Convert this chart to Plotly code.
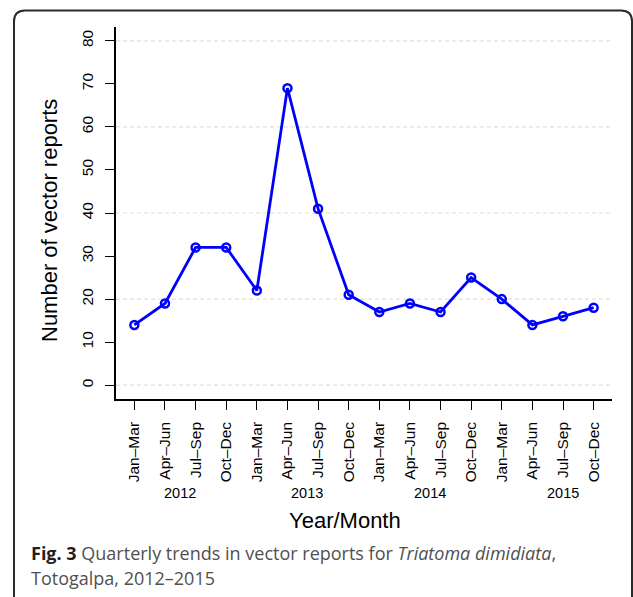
import plotly.graph_objects as go

# Quarterly vector reports, Totogalpa 2012-2015
quarters = ["Jan–Mar", "Apr–Jun", "Jul–Sep", "Oct–Dec"] * 4
reports = [14, 19, 32, 32, 22, 69, 41, 21, 17, 19, 17, 25, 20, 14, 16, 18]
years = ["2012", "2013", "2014", "2015"]
year_pos = [2.5, 6.65, 10.65, 15.0]
grid_vals = [0, 20, 40, 60, 80]
y_ticks = [0, 10, 20, 30, 40, 50, 60, 70, 80]

x_idx = list(range(1, len(reports) + 1))

W, H = 633, 597
L, R, T, B = 116, 21, 27, 198
PW, PH = W - L - R, H - T - B


def px(x):
    return (x - L) / PW


def py(y):
    return (H - B - y) / PH


fig = go.Figure()
fig.add_trace(go.Scatter(
    x=x_idx, y=reports, mode="lines+markers",
    line=dict(color="#0000FF", width=2.8),
    marker=dict(symbol="circle-open", size=8, color="#0000FF",
                line=dict(color="#0000FF", width=2.5)),
    cliponaxis=False, hoverinfo="skip",
))

tick_font = dict(family="Liberation Sans, Arial, sans-serif", size=15.5, color="#000000")
year_font = dict(family="Liberation Sans, Arial, sans-serif", size=14.5, color="#000000")

fig.update_layout(
    width=W, height=H,
    margin=dict(l=L, r=R, t=T, b=B, pad=0),
    paper_bgcolor="white", plot_bgcolor="white",
    showlegend=False,
    xaxis=dict(
        range=[0.4, 16.6], tickmode="array", tickvals=x_idx, ticktext=quarters,
        tickangle=-90, ticks="outside", ticklen=9, tickwidth=1, tickcolor="#000",
        showline=True, linecolor="#000", linewidth=1.5, showgrid=False,
        zeroline=False, tickfont=tick_font, ticklabelstandoff=6,
    ),
    yaxis=dict(
        range=[-3.2, 83.2], tickmode="array", tickvals=y_ticks,
        tickangle=-90, ticks="outside", ticklen=9, tickwidth=1, tickcolor="#000",
        showline=True, linecolor="#000", linewidth=1.5, showgrid=False,
        zeroline=False, tickfont=tick_font, ticklabelstandoff=6,
    ),
)

# dashed horizontal guides
for g in grid_vals:
    fig.add_shape(type="line", xref="paper", yref="y", x0=0, x1=1, y0=g, y1=g,
                  line=dict(color="#E6E0D0", width=1.2, dash="4px,3px"), layer="below")

# year labels under the quarter ticks
for yr, xp in zip(years, year_pos):
    fig.add_annotation(x=xp, y=py(493), xref="x", yref="paper", text=yr,
                       showarrow=False, xanchor="center", yanchor="middle",
                       font=year_font)

title_font = dict(family="Liberation Sans, Arial, sans-serif", size=22, color="#000000")
fig.add_annotation(x=px(345), y=py(520), xref="paper", yref="paper", text="Year/Month",
                   showarrow=False, xanchor="center", yanchor="middle", font=title_font)
fig.add_annotation(x=px(49), y=py(221), xref="paper", yref="paper",
                   text="Number of vector reports", textangle=-90,
                   showarrow=False, xanchor="center", yanchor="middle", font=title_font)

cap_font = dict(family="Open Sans, Noto Sans, sans-serif", size=18, color="#505050")
fig.add_annotation(
    x=px(29), y=py(553), xref="paper", yref="paper", xanchor="left", yanchor="middle",
    showarrow=False, font=cap_font, align="left",
    text=("<span style='color:#231f20'><b>Fig. 3</b></span> Quarterly trends in vector "
          "reports for <i>Triatoma dimidiata</i>,"),
)
fig.add_annotation(
    x=px(29), y=py(578), xref="paper", yref="paper", xanchor="left", yanchor="middle",
    showarrow=False, font=cap_font, align="left", text="Totogalpa, 2012–2015",
)

# rounded panel frame
r = 11
x0f, x1f, y0f, y1f = 14, 632, 10.5, 610
path = (f"M {px(x0f)},{py(y1f)} L {px(x0f)},{py(y0f + r)} "
        f"Q {px(x0f)},{py(y0f)} {px(x0f + r)},{py(y0f)} "
        f"L {px(x1f - r)},{py(y0f)} Q {px(x1f)},{py(y0f)} {px(x1f)},{py(y0f + r)} "
        f"L {px(x1f)},{py(y1f)}")
fig.add_shape(type="path", xref="paper", yref="paper", path=path,
              line=dict(color="#2a2a2a", width=2))

fig.write_html("out.html")
